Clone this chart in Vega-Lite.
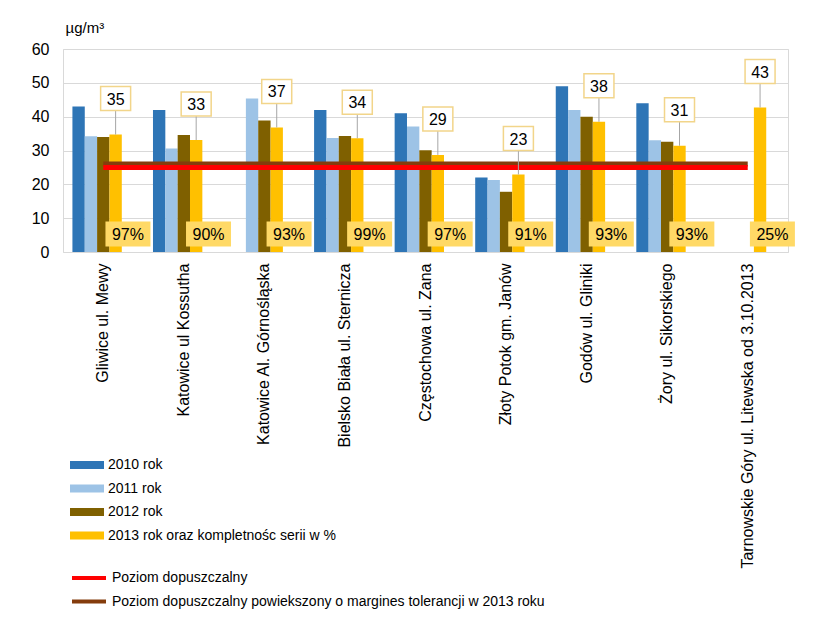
{
  "$schema": "https://vega.github.io/schema/vega-lite/v6.json",
  "width": 725,
  "height": 203,
  "autosize": {"type": "none"},
  "padding": {"left": 63, "top": 49, "right": 43, "bottom": 377},
  "background": "white",
  "config": {
    "font": "Liberation Sans",
    "view": {"stroke": "#D9D9D9", "strokeWidth": 1},
    "axis": {"labelColor": "#000000", "titleColor": "#000000", "labelFont": "Liberation Sans", "titleFont": "Liberation Sans"},
    "legend": {"labelFont": "Liberation Sans", "labelColor": "#000000"}
  },
  "datasets": {
    "bars": [
      {"station": "Gliwice ul. Mewy", "series": "2010 rok", "value": 43},
      {"station": "Gliwice ul. Mewy", "series": "2011 rok", "value": 34.2},
      {"station": "Gliwice ul. Mewy", "series": "2012 rok", "value": 34},
      {"station": "Gliwice ul. Mewy", "series": "2013 rok oraz kompletnośc serii w %", "value": 34.7},
      {"station": "Katowice ul Kossutha", "series": "2010 rok", "value": 42},
      {"station": "Katowice ul Kossutha", "series": "2011 rok", "value": 30.6},
      {"station": "Katowice ul Kossutha", "series": "2012 rok", "value": 34.6},
      {"station": "Katowice ul Kossutha", "series": "2013 rok oraz kompletnośc serii w %", "value": 33.1},
      {"station": "Katowice Al. Górnośląska", "series": "2011 rok", "value": 45.4},
      {"station": "Katowice Al. Górnośląska", "series": "2012 rok", "value": 38.9},
      {"station": "Katowice Al. Górnośląska", "series": "2013 rok oraz kompletnośc serii w %", "value": 36.8},
      {"station": "Bielsko Biała ul. Sternicza", "series": "2010 rok", "value": 42},
      {"station": "Bielsko Biała ul. Sternicza", "series": "2011 rok", "value": 33.7},
      {"station": "Bielsko Biała ul. Sternicza", "series": "2012 rok", "value": 34.3},
      {"station": "Bielsko Biała ul. Sternicza", "series": "2013 rok oraz kompletnośc serii w %", "value": 33.6},
      {"station": "Częstochowa ul. Zana", "series": "2010 rok", "value": 41},
      {"station": "Częstochowa ul. Zana", "series": "2011 rok", "value": 37.1},
      {"station": "Częstochowa ul. Zana", "series": "2012 rok", "value": 30.1},
      {"station": "Częstochowa ul. Zana", "series": "2013 rok oraz kompletnośc serii w %", "value": 28.7},
      {"station": "Złoty Potok gm. Janów", "series": "2010 rok", "value": 22},
      {"station": "Złoty Potok gm. Janów", "series": "2011 rok", "value": 21.3},
      {"station": "Złoty Potok gm. Janów", "series": "2012 rok", "value": 17.8},
      {"station": "Złoty Potok gm. Janów", "series": "2013 rok oraz kompletnośc serii w %", "value": 22.9},
      {"station": "Godów ul. Gliniki", "series": "2010 rok", "value": 49},
      {"station": "Godów ul. Gliniki", "series": "2011 rok", "value": 42},
      {"station": "Godów ul. Gliniki", "series": "2012 rok", "value": 40},
      {"station": "Godów ul. Gliniki", "series": "2013 rok oraz kompletnośc serii w %", "value": 38.5},
      {"station": "Żory ul. Sikorskiego", "series": "2010 rok", "value": 44},
      {"station": "Żory ul. Sikorskiego", "series": "2011 rok", "value": 33},
      {"station": "Żory ul. Sikorskiego", "series": "2012 rok", "value": 32.6},
      {"station": "Żory ul. Sikorskiego", "series": "2013 rok oraz kompletnośc serii w %", "value": 31.4},
      {"station": "Tarnowskie Góry ul. Litewska od 3.10.2013", "series": "2013 rok oraz kompletnośc serii w %", "value": 42.7}
    ],
    "labels": [
      {"station": "Gliwice ul. Mewy", "value": 34.7, "label": "35", "pct": "97%"},
      {"station": "Katowice ul Kossutha", "value": 33.1, "label": "33", "pct": "90%"},
      {"station": "Katowice Al. Górnośląska", "value": 36.8, "label": "37", "pct": "93%"},
      {"station": "Bielsko Biała ul. Sternicza", "value": 33.6, "label": "34", "pct": "99%"},
      {"station": "Częstochowa ul. Zana", "value": 28.7, "label": "29", "pct": "97%"},
      {"station": "Złoty Potok gm. Janów", "value": 22.9, "label": "23", "pct": "91%"},
      {"station": "Godów ul. Gliniki", "value": 38.5, "label": "38", "pct": "93%"},
      {"station": "Żory ul. Sikorskiego", "value": 31.4, "label": "31", "pct": "93%"},
      {"station": "Tarnowskie Góry ul. Litewska od 3.10.2013", "value": 42.7, "label": "43", "pct": "25%"}
    ],
    "limits": [
      {"station": "Gliwice ul. Mewy", "limit": 25, "tol": 26},
      {"station": "Katowice ul Kossutha", "limit": 25, "tol": 26},
      {"station": "Katowice Al. Górnośląska", "limit": 25, "tol": 26},
      {"station": "Bielsko Biała ul. Sternicza", "limit": 25, "tol": 26},
      {"station": "Częstochowa ul. Zana", "limit": 25, "tol": 26},
      {"station": "Złoty Potok gm. Janów", "limit": 25, "tol": 26},
      {"station": "Godów ul. Gliniki", "limit": 25, "tol": 26},
      {"station": "Żory ul. Sikorskiego", "limit": 25, "tol": 26},
      {"station": "Tarnowskie Góry ul. Litewska od 3.10.2013", "limit": 25, "tol": 26}
    ]
  },
  "encoding": {
    "x": {
      "field": "station",
      "type": "nominal",
      "sort": null,
      "scale": {
        "domain": ["Gliwice ul. Mewy", "Katowice ul Kossutha", "Katowice Al. Górnośląska", "Bielsko Biała ul. Sternicza", "Częstochowa ul. Zana", "Złoty Potok gm. Janów", "Godów ul. Gliniki", "Żory ul. Sikorskiego", "Tarnowskie Góry ul. Litewska od 3.10.2013"],
        "paddingInner": 0.234,
        "paddingOuter": 0.117
      },
      "axis": {
        "title": null,
        "labelAngle": -90,
        "labelFontSize": 16,
        "labelPadding": 11,
        "labelLimit": 400,
        "ticks": false,
        "domain": false,
        "grid": false
      }
    },
    "y": {
      "type": "quantitative",
      "scale": {"domain": [0, 60], "nice": false},
      "axis": {
        "title": "µg/m³",
        "titleAngle": 0,
        "titleAlign": "left",
        "titleBaseline": "middle",
        "titleX": 2,
        "titleY": -22,
        "titleFontSize": 15,
        "titleFontWeight": "normal",
        "values": [0, 10, 20, 30, 40, 50, 60],
        "labelFontSize": 16,
        "labelPadding": 14,
        "ticks": false,
        "domain": false,
        "gridColor": "#D9D9D9",
        "gridWidth": 1
      }
    }
  },
  "layer": [
    {
      "data": {"name": "bars"},
      "mark": {"type": "bar"},
      "encoding": {
        "y": {"field": "value", "type": "quantitative"},
        "xOffset": {
          "field": "series",
          "type": "nominal",
          "scale": {"domain": ["2010 rok", "2011 rok", "2012 rok", "2013 rok oraz kompletnośc serii w %", "pct"], "paddingInner": 0, "paddingOuter": 0}
        },
        "color": {
          "field": "series",
          "type": "nominal",
          "scale": {
            "domain": ["2010 rok", "2011 rok", "2012 rok", "2013 rok oraz kompletnośc serii w %"],
            "range": ["#2E75B6", "#9DC3E6", "#7F6000", "#FFC000"]
          },
          "legend": {
            "title": null,
            "orient": "none",
            "legendX": 7,
            "legendY": 408,
            "symbolType": "M-1,-0.235H1V0.235H-1Z",
            "symbolSize": 1156,
            "symbolStrokeWidth": 0,
            "labelFontSize": 14,
            "labelOffset": 4,
            "clipHeight": 16,
            "rowPadding": 7.5,
            "labelLimit": 600
          }
        }
      }
    },
    {
      "data": {"name": "limits"},
      "mark": {"type": "line", "strokeWidth": 5},
      "encoding": {
        "y": {"field": "tol", "type": "quantitative"},
        "stroke": {
          "datum": "Poziom dopuszczalny powiekszony o margines tolerancji w 2013 roku",
          "type": "nominal",
          "scale": {
            "domain": ["Poziom dopuszczalny", "Poziom dopuszczalny powiekszony o margines tolerancji w 2013 roku"],
            "range": ["#FF0000", "#843C0C"]
          },
          "legend": {
            "title": null,
            "orient": "none",
            "legendX": 7,
            "legendY": 521,
            "symbolType": "stroke",
            "symbolSize": 1156,
            "symbolStrokeWidth": 4,
            "labelFontSize": 14,
            "labelOffset": 4,
            "clipHeight": 16,
            "rowPadding": 7.5,
            "labelLimit": 600
          }
        }
      }
    },
    {
      "data": {"name": "limits"},
      "mark": {"type": "line", "strokeWidth": 5},
      "encoding": {
        "y": {"field": "limit", "type": "quantitative"},
        "stroke": {"datum": "Poziom dopuszczalny", "type": "nominal"}
      }
    },
    {
      "data": {"name": "labels"},
      "mark": {"type": "rule", "color": "#A6A6A6", "strokeWidth": 1, "y2Offset": -24},
      "encoding": {
        "xOffset": {"datum": "2013 rok oraz kompletnośc serii w %"},
        "y": {"field": "value", "type": "quantitative"},
        "y2": {"field": "value"}
      }
    },
    {
      "data": {"name": "labels"},
      "mark": {"type": "point", "shape": "M-1.25,-1H1.25V1H-1.25Z", "size": 576, "filled": true, "fill": "white", "stroke": "#F2D58A", "strokeWidth": 1.5, "opacity": 1, "yOffset": -36},
      "encoding": {
        "xOffset": {"datum": "2013 rok oraz kompletnośc serii w %"},
        "y": {"field": "value", "type": "quantitative"}
      }
    },
    {
      "data": {"name": "labels"},
      "mark": {"type": "text", "fontSize": 16, "color": "#000000", "baseline": "middle", "align": "center", "yOffset": -35},
      "encoding": {
        "xOffset": {"datum": "2013 rok oraz kompletnośc serii w %"},
        "y": {"field": "value", "type": "quantitative"},
        "text": {"field": "label"}
      }
    },
    {
      "data": {"name": "labels"},
      "mark": {"type": "point", "shape": "M-1.8,-1H1.8V1H-1.8Z", "size": 625, "filled": true, "fill": "#FFD966", "strokeWidth": 0, "opacity": 1, "yOffset": -18},
      "encoding": {
        "xOffset": {"datum": "pct"},
        "y": {"datum": 0}
      }
    },
    {
      "data": {"name": "labels"},
      "mark": {"type": "text", "fontSize": 16, "color": "#000000", "baseline": "middle", "align": "center", "yOffset": -17},
      "encoding": {
        "xOffset": {"datum": "pct"},
        "y": {"datum": 0},
        "text": {"field": "pct"}
      }
    }
  ]
}
